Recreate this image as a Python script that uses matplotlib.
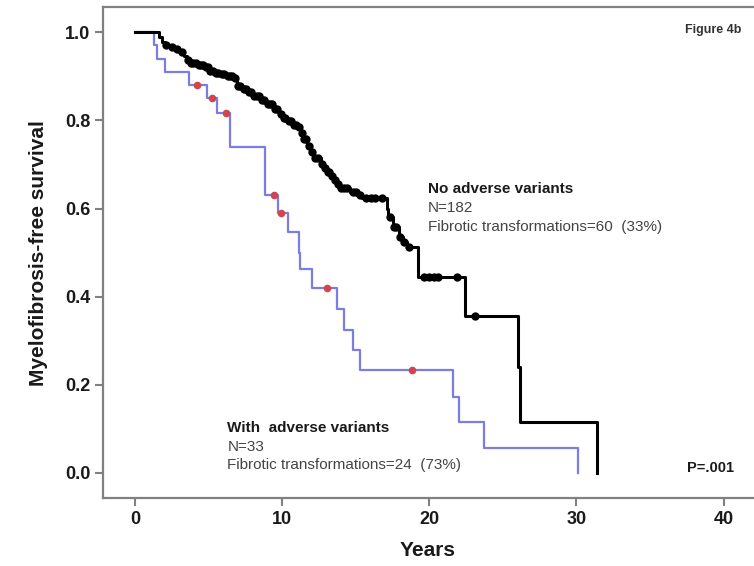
import matplotlib
matplotlib.use('agg')
import matplotlib.pyplot as plt
import numpy as np

plt.rcParams['font.family'] = ['Liberation Sans', 'DejaVu Sans']

# no adverse variants (N=182): event times and survival after each step
black_t = [0, 1.6, 1.8, 2.0, 2.4, 2.7, 3.0, 3.3, 3.5, 3.8, 4.2, 4.65, 5.0, 5.4, 5.8,
           6.2, 6.7, 6.9, 7.3, 7.6, 8.0, 8.5, 8.9, 9.4, 9.8, 10.0, 10.3, 10.7, 11.0,
           11.2, 11.4, 11.7, 11.9, 12.1, 12.6, 12.8, 13.0, 13.3, 13.5, 13.7, 13.9,
           14.6, 15.1, 15.4, 17.1, 17.2, 17.5, 17.9, 18.2, 18.5, 19.2, 19.25, 22.4,
           26.0, 26.15, 31.4]
black_s = [1.0, 0.989, 0.978, 0.972, 0.967, 0.961, 0.955, 0.945, 0.937, 0.93, 0.925,
           0.92, 0.913, 0.908, 0.905, 0.90, 0.895, 0.878, 0.87, 0.864, 0.855, 0.846,
           0.836, 0.826, 0.815, 0.805, 0.798, 0.79, 0.784, 0.772, 0.757, 0.742, 0.728,
           0.715, 0.702, 0.692, 0.683, 0.673, 0.664, 0.655, 0.646, 0.637, 0.63, 0.623,
           0.60, 0.581, 0.559, 0.536, 0.525, 0.513, 0.478, 0.445, 0.356, 0.24, 0.116, 0.0]
black_cens = [2.1, 2.5, 2.8, 3.2, 3.6, 3.8, 3.95, 4.1, 4.3, 4.45, 4.6, 4.8, 4.95, 5.1,
              5.3, 5.5, 5.65, 5.9, 6.05, 6.3, 6.45, 6.6, 6.8, 7.0, 7.15, 7.4, 7.5,
              7.7, 7.85, 8.1, 8.3, 8.4, 8.6, 8.75, 9.0, 9.15, 9.3, 9.5, 9.65, 9.9,
              10.1, 10.2, 10.45, 10.6, 10.8, 10.9, 11.1, 11.3, 11.5, 11.6, 11.8,
              12.0, 12.2, 12.4, 12.7, 12.9, 13.1, 13.2, 13.4, 13.6, 13.8, 14.0, 14.2,
              14.4, 14.8, 15.0, 15.3, 15.7, 16.0, 16.3, 16.8, 17.3, 17.6, 17.7, 18.0,
              18.3, 18.6, 19.6, 20.0, 20.3, 20.6, 21.9, 23.1]

# with adverse variants (N=33)
blue_t = [0, 1.25, 1.45, 2.04, 3.63, 4.88, 5.56, 6.46, 8.8, 9.7, 10.4, 11.1, 11.2,
          12.0, 13.7, 14.2, 14.8, 15.3, 21.6, 22.0, 23.7, 30.1]
blue_s = [1.0, 0.97, 0.94, 0.91, 0.88, 0.85, 0.816, 0.74, 0.63, 0.59, 0.546, 0.50,
          0.462, 0.42, 0.373, 0.325, 0.28, 0.234, 0.173, 0.116, 0.057, 0.0]
blue_cens = [4.2, 5.2, 6.19, 9.4, 9.9, 13.0, 18.8]


def surv_at(times, surv, pts):
    idx = np.searchsorted(times, pts, side='right') - 1
    return np.array(surv)[idx]


fig = plt.figure(figsize=(7.54, 5.66), dpi=100)
ax = fig.add_axes([0.1366, 0.120, 0.862, 0.8675])

ax.step(blue_t, blue_s, where='post', color='#7b7ee0', lw=1.6)
ax.step(black_t, black_s, where='post', color='black', lw=2.2)
ax.plot(black_cens, surv_at(black_t, black_s, black_cens), 'o', color='black',
        ms=6, mew=0)
ax.plot(blue_cens, surv_at(blue_t, blue_s, blue_cens), 'o', color='#d0464f',
        ms=5.5, mew=0)

ax.set_xlim(-2.2, 42)
ax.set_ylim(-0.057, 1.057)
ax.set_xticks([0, 10, 20, 30, 40])
ax.set_yticks([0.0, 0.2, 0.4, 0.6, 0.8, 1.0])
ax.set_yticklabels(['0.0', '0.2', '0.4', '0.6', '0.8', '1.0'])
for sp in ['left', 'bottom', 'top']:
    ax.spines[sp].set_color('#808080')
    ax.spines[sp].set_linewidth(1.6)
ax.spines['right'].set_visible(False)
ax.tick_params(direction='out', length=6, width=1.5, color='#808080',
               labelsize=13, labelcolor='#1a1a1a', pad=3)
for lab in ax.get_xticklabels() + ax.get_yticklabels():
    lab.set_fontweight('bold')

ax.set_xlabel('Years', fontsize=15, fontweight='bold', color='#1a1a1a', labelpad=10)
ax.set_ylabel('Myelofibrosis-free survival', fontsize=15, fontweight='bold',
              color='#1a1a1a', labelpad=12)

ax.text(19.9, 0.644, 'No adverse variants', fontsize=11, fontweight='bold',
        color='#1a1a1a', va='center')
ax.text(19.9, 0.601, 'N=182', fontsize=11, color='#444444', va='center')
ax.text(19.9, 0.558, 'Fibrotic transformations=60  (33%)', fontsize=11,
        color='#444444', va='center')

ax.text(6.26, 0.102, 'With  adverse variants', fontsize=11, fontweight='bold',
        color='#1a1a1a', va='center')
ax.text(6.26, 0.059, 'N=33', fontsize=11, color='#444444', va='center')
ax.text(6.26, 0.018, 'Fibrotic transformations=24  (73%)', fontsize=11,
        color='#444444', va='center')

ax.text(40.7, 0.011, 'P=.001', fontsize=10.5, fontweight='bold', color='#1a1a1a',
        va='center', ha='right')
ax.text(41.2, 1.005, 'Figure 4b', fontsize=9, fontweight='bold', color='#333333',
        va='center', ha='right')

fig.savefig('out.png', dpi=100)
